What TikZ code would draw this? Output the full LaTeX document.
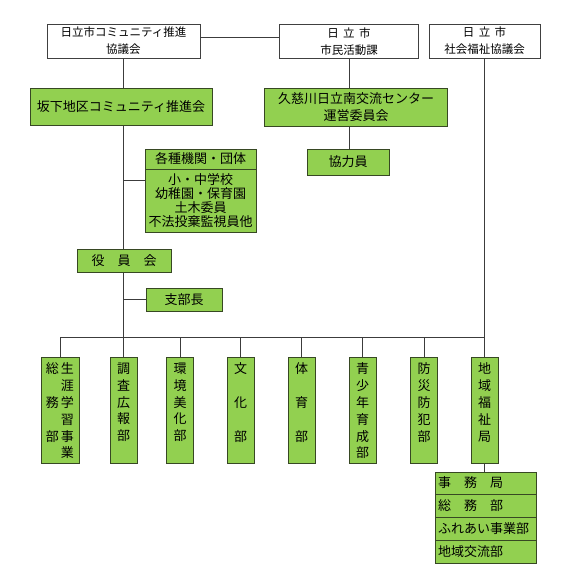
\documentclass[tikz,border=0pt]{standalone}
\usepackage{fontspec}
\setmainfont{Noto Sans CJK JP}
\usepackage{xcolor}
\usepackage{tikz}
\definecolor{boxgreen}{RGB}{146,208,80}
\definecolor{boxline}{RGB}{55,72,35}
\definecolor{wireline}{RGB}{60,60,60}
\newcommand{\tate}[1]{\parbox[c][94pt][t]{15pt}{\centering #1}}
\newcommand{\jgap}{\hspace{4.5pt}}

\begin{document}
\begin{tikzpicture}[x=1pt,y=-1pt,
  topbox/.style={draw=black!75, fill=white, line width=0.9pt, minimum height=34, inner sep=1pt, align=center, font=\fontsize{11.5}{17}\selectfont},
  grbox/.style={draw=boxline, fill=boxgreen, line width=1pt, inner sep=1pt, align=center, font=\fontsize{13}{16.8}\selectfont},
  vbox/.style={grbox, minimum width=27, minimum height=106, inner sep=0pt},
  rowbox/.style={grbox, minimum height=23, text width=95, inner xsep=3pt, align=left},
  wire/.style={draw=wireline, line width=1pt}]
\fill[white] (0,0) rectangle (571,576);

% top row
\node[topbox, minimum width=153] (kyogikai) at (123.5,41) {日立市コミュニティ推進\\協議会};
\node[topbox, minimum width=139] (katsudo) at (349,41.5) {日\jgap 立\jgap 市\\市民活動課};
\node[topbox, minimum width=111] (shakyo) at (484.5,41) {日\jgap 立\jgap 市\\社会福祉協議会};

\node[grbox, minimum width=182, minimum height=37] (suishinkai) at (121,106.5) {坂下地区コミュニティ推進会};
\node[grbox, minimum width=183, minimum height=38] (unei) at (356,107) {久慈川日立南交流センター\\運営委員会};
\node[grbox, minimum width=82, minimum height=26] (kyoryoku) at (348,162) {協力員};

\node[grbox, minimum width=111, minimum height=20] (kakushu) at (200.5,159) {各種機関・団体};
\node[grbox, minimum width=111, minimum height=63, font=\fontsize{13}{14.3}\selectfont] (dantai) at (200.5,200.5) {小・中学校\\幼稚園・保育園\\土木委員\\不法投棄監視員他};

\node[grbox, minimum width=94, minimum height=23] (yakuin) at (124,260.5) {役　員　会};
\node[grbox, minimum width=76, minimum height=23] (shibucho) at (184,299.5) {支部長};

% bu
\node[vbox, minimum width=38] (somu) at (60,410) {\tate{総\\[16.8pt]務\\[16.8pt]部}\tate{生\\涯\\学\\習\\事\\業}};
\node[vbox] (chosa) at (123.5,410) {\tate{調\\査\\広\\報\\部}};
\node[vbox] (kankyo) at (180,410) {\tate{環\\境\\美\\化\\部}};
\node[vbox] (bunka) at (240.5,410) {\tate{文\\[16.8pt]化\\[16.8pt]部}};
\node[vbox] (taiiku) at (301.5,410) {\tate{体\\[16.8pt]育\\[16.8pt]部}};
\node[vbox] (seishonen) at (362.5,410) {\tate{青\\少\\年\\育\\成\\部}};
\node[vbox] (bosai) at (424,410) {\tate{防\\災\\防\\犯\\部}};
\node[vbox] (chiiki) at (484.5,410) {\tate{地\\域\\福\\祉\\局}};

\node[rowbox, minimum height=22] (jimukyoku) at (485.5,483) {事　務　局};
\node[rowbox] (somubu) at (485.5,505.5) {総　務　部};
\node[rowbox] (fureai) at (485.5,528.5) {ふれあい事業部};
\node[rowbox] (koryu) at (485.5,551.5) {地域交流部};

% lines
\coordinate (bus) at (0,337);
\coordinate (kbranch) at (123.5,180);
\draw[wire] ([yshift=4pt]kyogikai.east) -- ([yshift=4pt]kyogikai.east -| katsudo.west);
\draw[wire] (kyogikai.south) -- (kyogikai.south |- suishinkai.north);
\draw[wire] (suishinkai.south -| kyogikai) -- (yakuin.north -| kyogikai);
\draw[wire] (kbranch) -- (kbranch -| dantai.west);
\draw[wire] (yakuin.south -| kyogikai) -- (chosa.north);
\draw[wire] (shibucho.west) -- (shibucho.west -| kyogikai);
\draw[wire] (katsudo.south) -- (katsudo.south |- unei.north);
\draw[wire] (unei.south -| katsudo) -- (kyoryoku.north -| katsudo);
\draw[wire] (shakyo.south) -- (chiiki.north);
\draw[wire] (somu.north) -- (somu.north |- bus) -- (chiiki.north |- bus);
\foreach \b in {kankyo,bunka,taiiku,seishonen,bosai}
  \draw[wire] (\b.north) -- (\b.north |- bus);
\draw[wire] (chiiki.south) -- (jimukyoku.north -| chiiki);
\end{tikzpicture}
\end{document}
